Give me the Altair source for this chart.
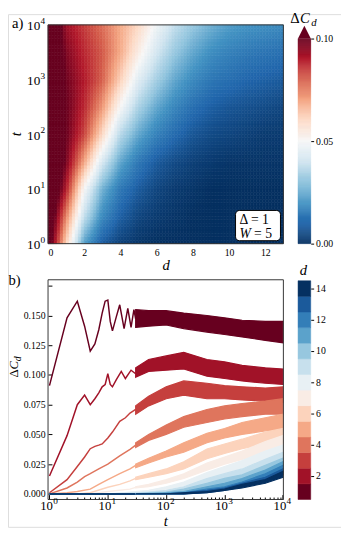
import altair as alt
import pandas as pd

FONT = "Liberation Serif"

# ---------------- panel a) : heat map node values (read from picture) ----------------
HEAT_X = list(range(14))                      # d positions 0..13
HEAT_LOGT = [0, 0.5, 1, 1.5, 2, 2.5, 3, 3.5, 4]  # log10 t rows
HEAT_ROWS = [
    [0.110, 0.062, 0.022, 0.008, 0.003, 0.001, 0.000, 0.000, 0.000, 0.000, 0.000, 0.000, 0.000, 0.000],
    [0.115, 0.075, 0.038, 0.018, 0.009, 0.004, 0.002, 0.001, 0.000, 0.000, 0.000, 0.000, 0.000, 0.000],
    [0.120, 0.090, 0.050, 0.026, 0.014, 0.008, 0.004, 0.002, 0.001, 0.000, 0.000, 0.000, 0.000, 0.000],
    [0.120, 0.098, 0.070, 0.042, 0.024, 0.014, 0.008, 0.005, 0.003, 0.002, 0.001, 0.001, 0.001, 0.001],
    [0.120, 0.100, 0.084, 0.060, 0.036, 0.024, 0.016, 0.011, 0.007, 0.005, 0.004, 0.003, 0.002, 0.002],
    [0.120, 0.100, 0.088, 0.072, 0.050, 0.034, 0.024, 0.017, 0.012, 0.009, 0.007, 0.006, 0.005, 0.004],
    [0.120, 0.099, 0.090, 0.080, 0.062, 0.044, 0.033, 0.024, 0.018, 0.014, 0.012, 0.010, 0.009, 0.008],
    [0.120, 0.097, 0.088, 0.081, 0.069, 0.054, 0.041, 0.031, 0.024, 0.019, 0.016, 0.014, 0.013, 0.012],
    [0.120, 0.093, 0.085, 0.078, 0.069, 0.060, 0.048, 0.038, 0.031, 0.026, 0.022, 0.020, 0.019, 0.018],
]

# ---------------- panel b) : curves, early (clean) part ----------------
EARLY_T = {
    1: [1, 2, 3, 4, 5, 6, 7, 8, 9, 10, 11, 12, 14, 16, 19, 22, 25, 28, 30],
    2: [1, 2, 3, 4, 5, 6, 7, 8, 9, 10, 11, 12, 14, 17, 20, 25, 30],
    3: [1, 2, 3, 4, 5, 6, 7, 8, 10, 12, 16, 20, 24, 30],
    4: [1, 2, 3, 4, 5, 7, 10, 16, 24, 30],
    5: [1, 2, 3, 5, 7, 10, 16, 24, 30],
    6: [1, 3, 5, 10, 16, 24, 30],
    7: [1, 5, 10, 24, 30],
    8: [1, 10, 20, 30],
    9: [1, 10, 30],
    10: [1, 30], 11: [1, 30], 12: [1, 30], 13: [1, 30], 14: [1, 30],
}
EARLY_V = {
    1: [0.091, 0.148, 0.162, 0.141, 0.120, 0.126, 0.138, 0.152, 0.162, 0.163, 0.145, 0.137, 0.149, 0.159, 0.139, 0.156, 0.140, 0.155, 0.147],
    2: [0.015, 0.049, 0.075, 0.083, 0.075, 0.080, 0.085, 0.090, 0.092, 0.101, 0.092, 0.090, 0.096, 0.103, 0.097, 0.104, 0.101],
    3: [0.001, 0.012, 0.023, 0.031, 0.038, 0.040, 0.041, 0.042, 0.047, 0.052, 0.061, 0.064, 0.068, 0.071],
    4: [0.000, 0.005, 0.010, 0.0145, 0.017, 0.021, 0.025, 0.032, 0.0375, 0.041],
    5: [0.000, 0.001, 0.002, 0.004, 0.008, 0.012, 0.017, 0.021, 0.024],
    6: [0.000, 0.000, 0.001, 0.0056, 0.008, 0.011, 0.013],
    7: [0.000, 0.000, 0.002, 0.004, 0.0055],
    8: [0.000, 0.000, 0.001, 0.0018],
    9: [0.000, 0.000, 0.0008],
    10: [0.0, 0.0], 11: [0.0, 0.0], 12: [0.0, 0.0], 13: [0.0, 0.0], 14: [0.0, 0.0],
}

# ---------------- panel b) : noisy part as lower / upper envelope ----------------
BAND_T = [30, 50, 100, 200, 500, 1000, 2000, 5000, 10000]
BAND_LO = {
    1: [0.140, 0.141, 0.142, 0.139, 0.136, 0.134, 0.132, 0.129, 0.127],
    2: [0.098, 0.103, 0.104, 0.105, 0.099, 0.097, 0.095, 0.093, 0.092],
    3: [0.067, 0.074, 0.080, 0.083, 0.080, 0.080, 0.079, 0.078, 0.077],
    4: [0.039, 0.045, 0.050, 0.056, 0.060, 0.063, 0.065, 0.067, 0.067],
    5: [0.022, 0.026, 0.031, 0.035, 0.043, 0.047, 0.050, 0.053, 0.054],
    6: [0.012, 0.014, 0.017, 0.021, 0.0295, 0.034, 0.038, 0.042, 0.043],
    7: [0.005, 0.006, 0.009, 0.013, 0.020, 0.025, 0.029, 0.035, 0.039],
    8: [0.0015, 0.002, 0.004, 0.007, 0.013, 0.017, 0.022, 0.029, 0.033],
    9: [0.0005, 0.001, 0.002, 0.004, 0.009, 0.012, 0.016, 0.023, 0.028],
    10: [0.0, 0.0, 0.001, 0.002, 0.006, 0.009, 0.012, 0.018, 0.024],
    11: [0.0, 0.0, 0.0, 0.001, 0.004, 0.006, 0.009, 0.015, 0.021],
    12: [0.0, 0.0, 0.0, 0.0, 0.002, 0.004, 0.007, 0.012, 0.018],
    13: [0.0, 0.0, 0.0, 0.0, 0.001, 0.003, 0.006, 0.010, 0.016],
    14: [0.0, 0.0, 0.0, 0.0, 0.001, 0.003, 0.005, 0.009, 0.014],
}
BAND_HI = {
    1: [0.155, 0.154, 0.154, 0.152, 0.150, 0.148, 0.146, 0.145, 0.145],
    2: [0.106, 0.113, 0.116, 0.119, 0.113, 0.111, 0.108, 0.106, 0.105],
    3: [0.074, 0.082, 0.090, 0.095, 0.093, 0.091, 0.090, 0.089, 0.090],
    4: [0.043, 0.050, 0.058, 0.065, 0.071, 0.074, 0.076, 0.078, 0.080],
    5: [0.025, 0.030, 0.036, 0.043, 0.051, 0.055, 0.060, 0.064, 0.067],
    6: [0.014, 0.017, 0.021, 0.027, 0.0377, 0.042, 0.046, 0.052, 0.055],
    7: [0.006, 0.008, 0.012, 0.017, 0.026, 0.031, 0.036, 0.044, 0.049],
    8: [0.002, 0.003, 0.006, 0.010, 0.018, 0.023, 0.028, 0.036, 0.041],
    9: [0.001, 0.0015, 0.003, 0.006, 0.013, 0.017, 0.021, 0.029, 0.035],
    10: [0.0, 0.001, 0.0015, 0.004, 0.009, 0.013, 0.016, 0.024, 0.030],
    11: [0.0, 0.0, 0.001, 0.002, 0.006, 0.009, 0.013, 0.020, 0.027],
    12: [0.0, 0.0, 0.0, 0.001, 0.004, 0.006, 0.010, 0.017, 0.024],
    13: [0.0, 0.0, 0.0, 0.001, 0.003, 0.005, 0.009, 0.014, 0.021],
    14: [0.0, 0.0, 0.0, 0.001, 0.002, 0.004, 0.008, 0.012, 0.019],
}

D_LEVELS = list(range(1, 15))
CBAR_D_TICKS = [2, 4, 6, 8, 10, 12, 14]
B_Y_TICKS = [0.0, 0.025, 0.05, 0.075, 0.1, 0.125, 0.15]
B_Y_INTICKS = [0.0, 0.025, 0.05, 0.075, 0.1, 0.125, 0.15, 0.175]
B_X_ALL = [m * 10 ** k for k in range(4) for m in range(1, 10)] + [10000]
DECADES = [0, 1, 2, 3, 4]   # exponents of the log tick labels (10^e)

# colour map (RdBu, 11 anchor colours, red end first)
RDBU = ["#67001f", "#b2182b", "#d6604d", "#f4a582", "#fddbc7", "#f7f7f7",
        "#d1e5f0", "#92c5de", "#4393c3", "#2166ac", "#053061"]

# ---------------- tables ----------------
heat_df = pd.DataFrame(
    [{"x": x, "lt": lt, "v": v} for lt, row in zip(HEAT_LOGT, HEAT_ROWS) for x, v in zip(HEAT_X, row)]
)
early_df = pd.DataFrame(
    [{"d": d, "t": t, "v": v} for d in D_LEVELS for t, v in zip(EARLY_T[d], EARLY_V[d])]
)
band_df = pd.DataFrame(
    [{"d": d, "t": t, "lo": lo, "hi": hi} for d in D_LEVELS
     for t, lo, hi in zip(BAND_T, BAND_LO[d], BAND_HI[d])]
)
dec_df = pd.DataFrame({"e": DECADES, "base": ["10"] * len(DECADES)})
cbar_d_df = pd.DataFrame({"d": D_LEVELS})
one = pd.DataFrame({"k": [0]})

HEAT_SCALE = alt.Scale(domain=[i / 100 for i in range(11)], range=RDBU[::-1],
                       interpolate="rgb", clamp=True)
D_SCALE = alt.Scale(domain=[1 + 1.3 * i for i in range(11)], range=RDBU, interpolate="rgb")

# ---------------- pixel frame of the whole figure (origin = page 8,8) ----------------
W, H = 341, 525
AX = [41, 282]          # both panels, x range
AY = [235, 11]          # panel a, y range
BY = [497, 272]         # panel b, y range
CBX = [297, 310]        # colour bars, x

NT, NX = 8, 6
A_YSCALE = alt.Scale(domain=[0, 4], range=AY, nice=False, zero=False)
XS = alt.Scale(type="log", domain=[0.945, 10200], range=AX, nice=False)
YS = alt.Scale(domain=[-0.0047, 0.180], range=BY, nice=False, zero=False)


def txt(s, x, y, size=15, style="normal", align="left", angle=0):
    return alt.Chart(one).mark_text(
        text=s, font=FONT, fontSize=size, fontStyle=style, align=align,
        baseline="alphabetic", angle=angle, color="black"
    ).encode(x=alt.value(x), y=alt.value(y))


def frame(x0, x1, y0, y1):
    return alt.Chart(one).mark_rect(fillOpacity=0, stroke="#333333", strokeWidth=1).encode(
        x=alt.value(x0), x2=alt.value(x1), y=alt.value(y0), y2=alt.value(y1)
    )


# ---------------- panel a) heat map (bilinear shading done by Vega) ----------------
heat_rect = (
    alt.Chart(heat_df)
    .transform_window(v_up="lead(v)", lt_up="lead(lt)", groupby=["x"], sort=[{"field": "lt"}])
    .transform_filter("isValid(datum.v_up)")
    .transform_calculate(kt=f"sequence(0, 1, {1/NT})")
    .transform_flatten(["kt"])
    .transform_calculate(
        lt0="datum.lt + datum.kt * (datum.lt_up - datum.lt)",
        lt1=f"datum.lt + (datum.kt + {1/NT}) * (datum.lt_up - datum.lt)",
        vt=f"datum.v + (datum.kt + {0.5/NT}) * (datum.v_up - datum.v)",
    )
    .transform_window(vr="lead(vt)", xr="lead(x)", groupby=["lt", "kt"], sort=[{"field": "x"}])
    .transform_filter("isValid(datum.vr)")
    .transform_calculate(kx=f"sequence(0, 1, {1/NX})")
    .transform_flatten(["kx"])
    .transform_calculate(
        x0="datum.x + datum.kx * (datum.xr - datum.x)",
        x1=f"datum.x + (datum.kx + {1/NX}) * (datum.xr - datum.x)",
        val=f"datum.vt + (datum.kx + {0.5/NX}) * (datum.vr - datum.vt)",
    )
    .mark_rect(strokeWidth=0.6)
    .encode(
        x=alt.X("x0:Q", scale=alt.Scale(domain=[0, 13], range=AX, nice=False, zero=False),
                axis=alt.Axis(orient="bottom", offset=-(H - AY[0]), values=[0, 2, 4, 6, 8, 10, 12],
                              tickSize=0, labelPadding=4, domain=False, grid=False, title="d",
                              titleFontStyle="italic", titleFontWeight="normal", titlePadding=0,
                              titleFontSize=15)),
        x2="x1:Q",
        y=alt.Y("lt0:Q", scale=A_YSCALE, axis=None),
        y2="lt1:Q",
        color=alt.Color("val:Q", scale=HEAT_SCALE, legend=None),
        stroke=alt.Stroke("val:Q", scale=HEAT_SCALE, legend=None),
    )
)

# 10^e labels of panel a's t axis
a_lab10 = alt.Chart(dec_df).mark_text(font=FONT, fontSize=13.5, align="right", baseline="middle",
                                      dy=1.5, color="black").encode(
    x=alt.value(33), y=alt.Y("e:Q", scale=A_YSCALE, axis=None), text="base:N")
a_labsup = alt.Chart(dec_df).mark_text(font=FONT, fontSize=9.5, align="left", baseline="middle",
                                       dy=-4, color="black").encode(
    x=alt.value(33.3), y=alt.Y("e:Q", scale=A_YSCALE, axis=None), text="e:N")

box = alt.Chart(one).mark_rect(fill="white", stroke="black", strokeWidth=1, cornerRadius=4).encode(
    x=alt.value(233), x2=alt.value(279), y=alt.value(201), y2=alt.value(232)
)

# ---------------- colour bar for a) ----------------
cb1_rect = (
    alt.Chart(alt.sequence(0, 0.1, 0.0005, as_="v"))
    .transform_calculate(v2="datum.v + 0.0005")
    .mark_rect(strokeWidth=0.5)
    .encode(
        x=alt.value(CBX[0]), x2=alt.value(CBX[1]),
        y=alt.Y("v:Q", scale=alt.Scale(domain=[0, 0.1], range=[235, 25], nice=False, zero=False),
                axis=alt.Axis(orient="right", offset=CBX[1] - W, values=[0, 0.05, 0.1], format=".2f",
                              tickSize=3, tickColor="black", labelPadding=2, domain=False,
                              grid=False, title=None)),
        y2="v2:Q",
        color=alt.Color("v:Q", scale=HEAT_SCALE, legend=None),
        stroke=alt.Stroke("v:Q", scale=HEAT_SCALE, legend=None),
    )
)
cb1_arrow = alt.Chart(pd.DataFrame({"v": [0.1031]})).mark_point(
    shape="M-1,1L1,1L0,-1Z", filled=True, size=169, opacity=1, strokeWidth=0
).encode(
    x=alt.value((CBX[0] + CBX[1]) / 2),
    y=alt.Y("v:Q", scale=alt.Scale(domain=[0, 0.1], range=[235, 25], nice=False, zero=False), axis=None),
    color=alt.value(RDBU[0]),
)

# ---------------- panel b) curves ----------------
lines = alt.Chart(early_df).mark_line(strokeWidth=1.5).encode(
    x=alt.X("t:Q", scale=XS, axis=None),
    y=alt.Y("v:Q", scale=YS,
            axis=alt.Axis(orient="left", offset=-AX[0], values=B_Y_TICKS, format=".3f", tickSize=0,
                          labelPadding=3, domain=False, grid=False, title=None)),
    color=alt.Color("d:Q", scale=D_SCALE, legend=None),
    detail="d:N",
)
bands = alt.Chart(band_df).mark_area(strokeWidth=1.2, opacity=1).encode(
    x=alt.X("t:Q", scale=XS,
            axis=alt.Axis(orient="top", offset=-BY[0], values=B_X_ALL, labels=False,
                          tickSize={"condition": {"test": "indexof([1,10,100,1000,10000], datum.value) >= 0",
                                                  "value": 5}, "value": 2.5},
                          tickColor="black", domain=False, grid=False, title=None)),
    y=alt.Y("lo:Q", scale=YS,
            axis=alt.Axis(orient="right", offset=AX[0] - W, values=B_Y_INTICKS, labels=False, tickSize=4,
                          tickColor="black", domain=False, grid=False, title=None)),
    y2="hi:Q",
    color=alt.Color("d:Q", scale=D_SCALE, legend=None),
    stroke=alt.Stroke("d:Q", scale=D_SCALE, legend=None),
    detail="d:N",
)

# 10^e labels of panel b's t axis
b_lab10 = alt.Chart(dec_df).transform_calculate(tv="pow(10, datum.e)").mark_text(
    font=FONT, fontSize=13, align="right", baseline="middle", dx=3.5, color="black").encode(
    x=alt.X("tv:Q", scale=XS, axis=None), y=alt.value(504), text="base:N")
b_labsup = alt.Chart(dec_df).transform_calculate(tv="pow(10, datum.e)").mark_text(
    font=FONT, fontSize=9.5, align="left", baseline="middle", dx=3.8, color="black").encode(
    x=alt.X("tv:Q", scale=XS, axis=None), y=alt.value(499), text="e:N")

# ---------------- colour bar for b) ----------------
cb2_rect = (
    alt.Chart(cbar_d_df)
    .transform_calculate(lo="datum.d - 0.5", hi="datum.d + 0.5")
    .mark_rect(strokeWidth=0.5)
    .encode(
        x=alt.value(CBX[0]), x2=alt.value(CBX[1]),
        y=alt.Y("lo:Q", scale=alt.Scale(domain=[0.5, 14.5], range=[497, 273], nice=False, zero=False),
                axis=alt.Axis(orient="right", offset=CBX[1] - W, values=CBAR_D_TICKS, tickSize=3,
                              tickColor="black", labelPadding=2, domain=False, grid=False, title=None)),
        y2="hi:Q",
        color=alt.Color("d:Q", scale=D_SCALE, legend=None),
        stroke=alt.Stroke("d:Q", scale=D_SCALE, legend=None),
    )
)

chart = (
    alt.layer(
        heat_rect,
        frame(AX[0], AX[1], AY[1], AY[0]),
        a_lab10, a_labsup,
        txt("t", 13, 123, style="italic", align="center", angle=270),
        box,
        txt("\u0394 = 1", 237, 215, size=14),
        txt("W", 237, 229, size=14, style="italic"),
        txt("= 5", 252, 229, size=14),
        txt("a)", 4, 14),
        cb1_rect,
        cb1_arrow,
        txt("\u0394", 289, 9.5), txt("C", 299, 9.5, style="italic"),
        txt("d", 310.5, 12.5, size=11, style="italic"),
        lines,
        bands,
        frame(AX[0], AX[1], BY[1], BY[0]),
        b_lab10, b_labsup,
        txt("t", 161.5, 523.8, style="italic", align="center"),
        txt("b)", 0.5, 277),
        txt("\u0394", 10.5, 372, size=13, angle=270),
        txt("C", 10.5, 364, size=13, style="italic", angle=270),
        txt("d", 13.5, 355.5, size=10, style="italic", angle=270),
        cb2_rect,
        txt("d", 302.5, 267, style="italic", align="center"),
    )
    .resolve_scale(x="independent", y="independent", color="independent", stroke="independent")
    .resolve_axis(x="independent", y="independent")
    .properties(width=W, height=H, autosize=alt.AutoSizeParams(type="none"), padding=0)
    .configure_view(stroke="transparent")
    .configure_axis(labelFont=FONT, titleFont=FONT, labelFontSize=13, labelColor="black",
                    titleColor="black")
    .configure_text(font=FONT)
    .configure(font=FONT)
)

chart.save("out.html", embed_options={"renderer": "svg", "actions": False})
